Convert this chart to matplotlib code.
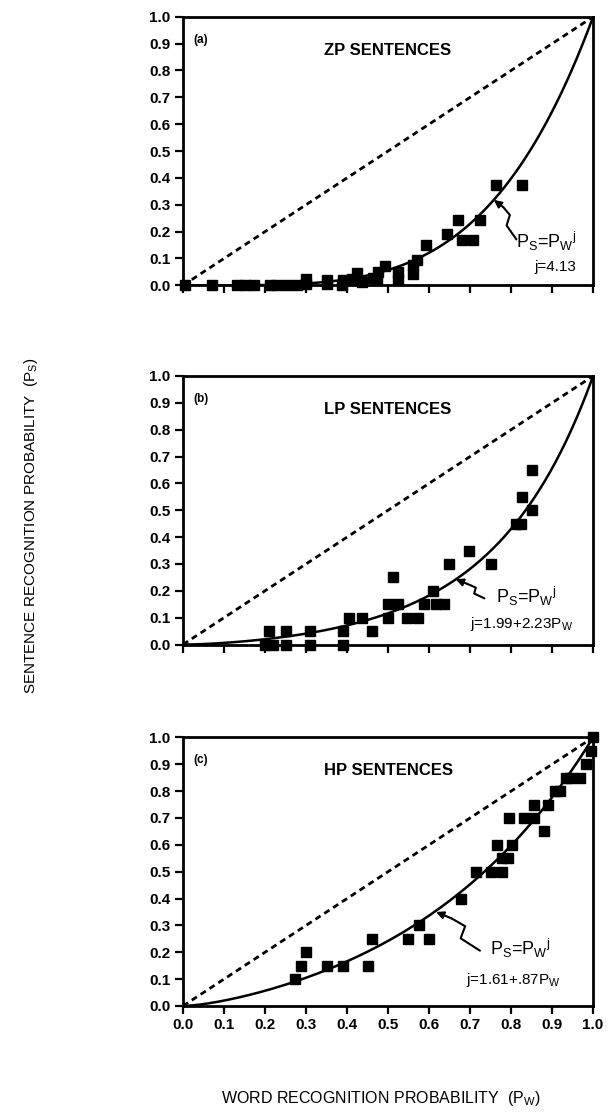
import numpy as np
import matplotlib
matplotlib.use("Agg")
import matplotlib.pyplot as plt

plt.rcParams['font.family'] = ['Liberation Sans', 'DejaVu Sans']

# ---------------- data ----------------
zp_pw = [0.006, 0.071, 0.131, 0.152, 0.172, 0.213, 0.229, 0.253, 0.278, 0.300, 0.300,
         0.351, 0.351, 0.387, 0.391, 0.411, 0.424, 0.436, 0.464, 0.472, 0.476, 0.493,
         0.525, 0.525, 0.560, 0.562, 0.570, 0.593, 0.643, 0.671, 0.681, 0.706, 0.725,
         0.763, 0.827]
zp_ps = [0.0, 0.0, 0.0, 0.0, 0.0, 0.0, 0.0, 0.0, 0.003, 0.006, 0.023,
         0.006, 0.019, 0.003, 0.019, 0.023, 0.046, 0.011, 0.029, 0.019, 0.049, 0.072,
         0.019, 0.049, 0.074, 0.042, 0.095, 0.149, 0.191, 0.242, 0.168, 0.168, 0.242,
         0.374, 0.374]

lp_pw = [0.20, 0.22, 0.25, 0.31, 0.39, 0.21, 0.25, 0.31, 0.39, 0.46,
         0.405, 0.437, 0.501, 0.547, 0.574, 0.501, 0.525, 0.588, 0.617, 0.637,
         0.610, 0.511, 0.649, 0.750, 0.698, 0.813, 0.825, 0.851, 0.827, 0.850]
lp_ps = [0.0, 0.0, 0.0, 0.0, 0.0, 0.05, 0.05, 0.05, 0.05, 0.05,
         0.10, 0.10, 0.10, 0.10, 0.10, 0.15, 0.15, 0.15, 0.15, 0.15,
         0.20, 0.25, 0.30, 0.30, 0.35, 0.45, 0.45, 0.50, 0.55, 0.65]

hp_pw = [0.274, 0.287, 0.300, 0.351, 0.389, 0.452, 0.460, 0.548, 0.576, 0.600,
         0.678, 0.714, 0.750, 0.778, 0.777, 0.793, 0.766, 0.803, 0.795, 0.832,
         0.855, 0.881, 0.855, 0.890, 0.907, 0.919, 0.933, 0.943, 0.969, 0.982,
         0.994, 1.0]
hp_ps = [0.10, 0.15, 0.20, 0.15, 0.15, 0.15, 0.25, 0.25, 0.30, 0.25,
         0.40, 0.50, 0.50, 0.50, 0.55, 0.55, 0.60, 0.60, 0.70, 0.70,
         0.70, 0.65, 0.75, 0.75, 0.80, 0.80, 0.85, 0.85, 0.85, 0.90,
         0.95, 1.0]

ticks = [0.0, 0.1, 0.2, 0.3, 0.4, 0.5, 0.6, 0.7, 0.8, 0.9, 1.0]
tick_labels = ['0.0', '0.1', '0.2', '0.3', '0.4', '0.5', '0.6', '0.7', '0.8', '0.9', '1.0']

panels = [
    dict(tag='(a)', title='ZP SENTENCES', pw=zp_pw, ps=zp_ps, j0=4.13, j1=0.0,
         jtext='j=4.13',
         squig=[(0.813, 0.171), (0.789, 0.223), (0.797, 0.262), (0.781, 0.291)], head=(0.758, 0.318),
         eq=(0.812, 0.165), jpos=(0.858, 0.07)),
    dict(tag='(b)', title='LP SENTENCES', pw=lp_pw, ps=lp_ps, j0=1.99, j1=2.23,
         jtext=r'j=1.99+2.23P$_\mathregular{W}$',
         squig=[(0.735, 0.172), (0.710, 0.190), (0.714, 0.212), (0.693, 0.226)], head=(0.665, 0.243),
         eq=(0.762, 0.18), jpos=(0.70, 0.075)),
    dict(tag='(c)', title='HP SENTENCES', pw=hp_pw, ps=hp_ps, j0=1.61, j1=0.87,
         jtext=r'j=1.61+.87P$_\mathregular{W}$',
         squig=[(0.724, 0.206), (0.677, 0.252), (0.688, 0.297), (0.655, 0.326)], head=(0.617, 0.35),
         eq=(0.748, 0.215), jpos=(0.69, 0.097)),
]

fig = plt.figure(figsize=(6.14, 11.19), dpi=100)
boxes = [(0.298, 0.745, 0.668, 0.240), (0.298, 0.424, 0.668, 0.240), (0.298, 0.101, 0.668, 0.240)]

x = np.linspace(0.0, 1.0, 400)
for i, (p, b) in enumerate(zip(panels, boxes)):
    ax = fig.add_axes(b)
    ax.set_xlim(0, 1)
    ax.set_ylim(0, 1)
    ax.plot([0, 1], [0, 1], color='black', lw=2.0, linestyle=(0, (2.2, 1.6)))
    y = x ** (p['j0'] + p['j1'] * x)
    ax.plot(x, y, color='black', lw=1.8)
    ax.plot(p['pw'], p['ps'], linestyle='none', marker='s', ms=6.5, color='black', clip_on=False)
    ax.set_xticks(ticks)
    ax.set_yticks(ticks)
    ax.set_yticklabels(tick_labels, fontsize=11, fontweight='bold')
    if i == 2:
        ax.set_xticklabels(tick_labels, fontsize=11, fontweight='bold')
    else:
        ax.set_xticklabels([])
    ax.tick_params(direction='out', length=6, width=1.6, pad=3)
    for s in ax.spines.values():
        s.set_linewidth(2.0)
    ax.text(0.025, 0.915, p['tag'], fontsize=8.5, fontweight='bold', transform=ax.transAxes, va='center')
    ax.text(0.50, 0.875, p['title'], fontsize=12, fontweight='bold', transform=ax.transAxes,
            va='center', ha='center')
    sx = [q[0] for q in p['squig']]
    sy = [q[1] for q in p['squig']]
    ax.plot(sx, sy, color='black', lw=1.5, solid_capstyle='round', solid_joinstyle='round')
    ax.annotate('', xy=p['head'], xytext=p['squig'][-1],
                arrowprops=dict(arrowstyle='-|>', color='black', lw=1.5,
                                shrinkA=0, shrinkB=0, mutation_scale=11))
    ax.text(p['eq'][0], p['eq'][1], r'P$_\mathregular{S}$=P$_\mathregular{W}$$^\mathregular{j}$',
            fontsize=13, va='center', ha='left')
    ax.text(p['jpos'][0], p['jpos'][1], p['jtext'], fontsize=11, va='center', ha='left')

fig.text(0.05, 0.53, r'SENTENCE RECOGNITION PROBABILITY  (P$_\mathregular{S}$)', rotation=90,
         fontsize=11, va='center', ha='center')
fig.text(0.62, 0.018, r'WORD RECOGNITION PROBABILITY  (P$_\mathregular{W}$)',
         fontsize=11.5, va='center', ha='center')

fig.savefig('out.png', dpi=100)
